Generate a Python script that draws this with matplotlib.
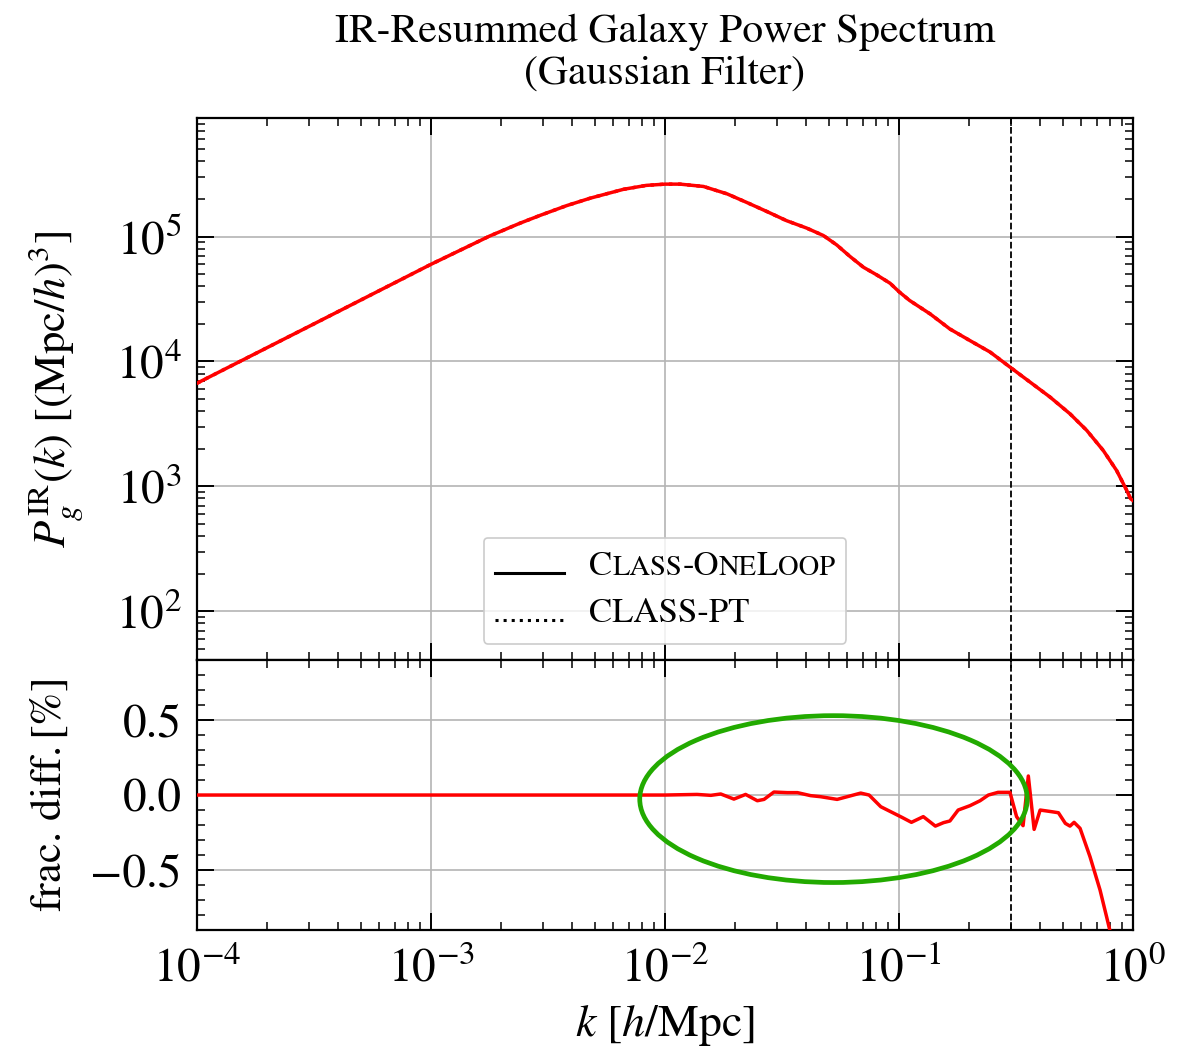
import numpy as np
import matplotlib
matplotlib.use('Agg')
from matplotlib import pyplot as plt
from matplotlib.lines import Line2D
from matplotlib.patches import Ellipse
from matplotlib.ticker import MultipleLocator
from matplotlib.offsetbox import AnchoredOffsetbox, DrawingArea, HPacker, TextArea, VPacker

plt.rcParams['font.family'] = 'STIXGeneral'
plt.rcParams['mathtext.fontset'] = 'stix'

# IR-resummed galaxy power spectrum
k_pk = [1.0e-4, 3.16e-4, 1.0e-3, 1.78e-3, 2.40e-3, 2.93e-3, 3.80e-3, 4.79e-3,
        6.64e-3, 8.32e-3, 1.0e-2, 1.16e-2, 1.46e-2, 1.84e-2, 2.23e-2, 2.72e-2,
        3.31e-2, 4.03e-2, 4.75e-2, 5.42e-2, 6.18e-2, 7.05e-2, 8.04e-2, 9.16e-2,
        1.0e-1, 1.11e-1, 1.36e-1, 1.65e-1, 2.01e-1, 2.45e-1, 2.98e-1, 3.63e-1,
        4.42e-1, 5.38e-1, 6.34e-1, 7.46e-1, 8.51e-1, 9.40e-1, 9.77e-1, 1.0]
pk_ir = [6.7e3, 2.0e4, 6.0e4, 1.01e5, 1.28e5, 1.48e5, 1.77e5, 2.03e5,
         2.39e5, 2.57e5, 2.63e5, 2.63e5, 2.52e5, 2.2e5, 1.88e5, 1.59e5,
         1.34e5, 1.17e5, 1.02e5, 8.57e4, 6.92e4, 5.68e4, 4.93e4, 4.23e4,
         3.62e4, 3.08e4, 2.40e4, 1.82e4, 1.47e4, 1.19e4, 9.02e3, 6.84e3,
         5.19e3, 3.81e3, 2.81e3, 1.94e3, 1.34e3, 9.3e2, 7.96e2, 7.7e2]

# fractional difference CLASS-OneLoop vs CLASS-PT, in percent
k_diff = [1.0e-4, 1.0e-3, 1.0e-2, 1.37e-2, 1.57e-2, 1.73e-2, 1.97e-2, 2.21e-2,
          2.48e-2, 2.65e-2, 2.92e-2, 3.33e-2, 3.68e-2, 4.19e-2, 4.62e-2, 5.44e-2,
          6.01e-2, 6.86e-2, 7.45e-2, 8.36e-2, 9.46e-2, 1.03e-1, 1.13e-1, 1.27e-1,
          1.43e-1, 1.55e-1, 1.65e-1, 1.79e-1, 2.01e-1, 2.22e-1, 2.41e-1, 2.65e-1,
          2.98e-1, 3.18e-1, 3.39e-1, 3.57e-1, 3.78e-1, 4.01e-1, 4.49e-1, 4.80e-1,
          5.14e-1, 5.38e-1, 5.60e-1, 5.94e-1, 6.55e-1, 7.23e-1, 7.71e-1, 8.1e-1]
frac_diff = [0.0, 0.0, 0.0, 0.004, -0.002, 0.007, -0.027, 0.004,
             -0.038, -0.029, 0.02, 0.016, 0.016, -0.004, -0.011, -0.029,
             -0.011, 0.013, 0.0, -0.078, -0.12, -0.149, -0.182, -0.144,
             -0.207, -0.184, -0.173, -0.1, -0.071, -0.038, 0.0, 0.018,
             0.018, -0.144, -0.204, 0.127, -0.229, -0.1, -0.111, -0.118,
             -0.189, -0.207, -0.182, -0.222, -0.411, -0.633, -0.811, -0.95]

k_max = 0.3


def style_axis(ax):
    ax.tick_params(which='both', direction='in', top=True, right=True, labelsize=34)
    ax.tick_params(which='major', length=12, width=1.4, pad=11)
    ax.tick_params(which='minor', length=6, width=1.1)
    for s in ax.spines.values():
        s.set_linewidth(1.6)
    ax.grid(which='major', color='#b4b4b4', lw=1.2)
    ax.set_axisbelow(True)


def sc_label(word, big=25, small=20.5):
    # poor man's \textsc: capitals full size, lower-case letters as smaller capitals
    runs = []
    for ch in word:
        size = small if ch.islower() else big
        if runs and runs[-1][1] == size:
            runs[-1][0] += ch.upper()
        else:
            runs.append([ch.upper(), size])
    return HPacker(children=[TextArea(t, textprops=dict(fontsize=s)) for t, s in runs],
                   align='baseline', pad=0, sep=0)


def handle(ls):
    da = DrawingArea(50, 26)
    da.add_artist(Line2D([0, 50], [9, 9], color='k', lw=2.2, ls=ls))
    return da


fig = plt.figure(figsize=(11.92, 10.49), dpi=100)
ax = fig.add_axes([0.1653, 0.3708, 0.7852, 0.5167])
ax2 = fig.add_axes([0.1653, 0.1134, 0.7852, 0.2574], sharex=ax)

ax.plot(k_pk, pk_ir, color='red', lw=2.5, zorder=3)
ax.plot(k_pk, pk_ir, color='red', lw=2.5, ls=':', zorder=2)
ax.axvline(k_max, color='k', ls='--', lw=1.3)
ax.set_xscale('log')
ax.set_yscale('log')
ax.set_xlim(1e-4, 1)
ax.set_ylim(40.7, 8.9e5)
ax.set_ylabel(r'$P_g^{\rm IR}(k)\ [({\rm Mpc}/h)^3]$', fontsize=32)
ax.yaxis.set_label_coords(-0.12, 0.5)
ax.set_title('IR-Resummed Galaxy Power Spectrum\n(Gaussian Filter)', fontsize=30, pad=25,
             linespacing=1.12)
style_axis(ax)
ax.tick_params(labelbottom=False)

rows = [HPacker(children=[handle('-'), sc_label('Class-OneLoop')], sep=18, align='center', pad=0),
        HPacker(children=[handle(':'), sc_label('CLASS-PT')], sep=18, align='center', pad=0)]
leg = AnchoredOffsetbox(loc='lower center', child=VPacker(children=rows, sep=8, align='left', pad=0),
                        pad=0.7, borderpad=0, frameon=True,
                        bbox_to_anchor=(0.5, 0.033), bbox_transform=ax.transAxes)
leg.patch.set_boxstyle('round,pad=0.1,rounding_size=0.3')
leg.patch.set_edgecolor('#cccccc')
leg.patch.set_facecolor((1, 1, 1, 0.8))
leg.patch.set_linewidth(1.2)
ax.add_artist(leg)

ax2.plot(k_diff, frac_diff, color='red', lw=2.5, zorder=3)
ax2.axvline(k_max, color='k', ls='--', lw=1.3)
ax2.set_ylim(-0.9, 0.9)
ax2.yaxis.set_major_locator(MultipleLocator(0.5))
ax2.yaxis.set_minor_locator(MultipleLocator(0.1))
ax2.set_xlabel(r'$k\ [h/{\rm Mpc}]$', fontsize=33, labelpad=8)
ax2.set_ylabel(r'frac. diff.$\,[\%]$', fontsize=32)
ax2.yaxis.set_label_coords(-0.136, 0.5)
style_axis(ax2)
ax2.tick_params(axis='x', which='major', pad=12)
ax2.add_patch(Ellipse((0.680, 0.485), 0.414, 0.618, transform=ax2.transAxes, fill=False,
                      edgecolor='#22aa00', lw=3.4, zorder=5, clip_on=False))

fig.savefig('out.png', dpi=100)
